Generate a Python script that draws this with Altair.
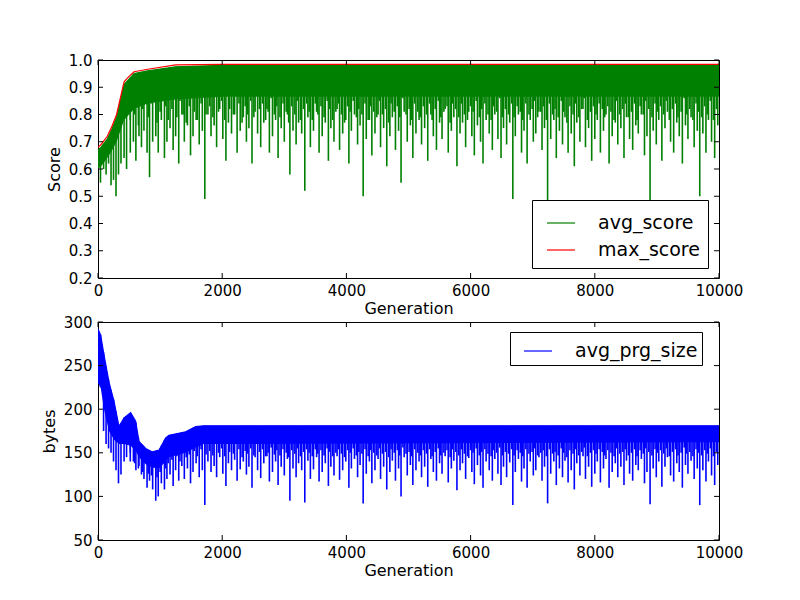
import altair as alt
import numpy as np
import pandas as pd

# ---------------- tick labels ----------------
x_ticks = [0, 2000, 4000, 6000, 8000, 10000]
score_ticks = [0.2, 0.3, 0.4, 0.5, 0.6, 0.7, 0.8, 0.9, 1.0]
bytes_ticks = [50, 100, 150, 200, 250, 300]

# ---------------- top panel: envelopes ----------------
env_g_gen = [0, 50, 150, 230, 300, 420, 500, 580, 800, 1250, 2000, 10000]
max_score = [0.68, 0.69, 0.72, 0.76, 0.80, 0.92, 0.94, 0.957, 0.966, 0.982, 0.984, 0.984]
avg_score_top = [0.67, 0.68, 0.71, 0.75, 0.79, 0.91, 0.93, 0.95, 0.96, 0.975, 0.98, 0.98]
avg_score_core_low = [0.60, 0.61, 0.64, 0.67, 0.70, 0.78, 0.80, 0.82, 0.84, 0.855, 0.865, 0.865]

# ---------------- bottom panel: envelopes ----------------
env_b_gen = [0, 43, 97, 177, 258, 338, 419, 526, 607, 660, 768, 875, 982, 1090, 1143, 1412, 1573, 1700, 10000]
avg_prg_top = [292, 285, 262, 231, 209, 180, 190, 196, 186, 163, 155, 151, 153, 167, 170, 174, 180, 181, 181]
avg_prg_core_low = [230, 225, 200, 175, 165, 160, 160, 158, 152, 145, 137, 133, 132, 140, 145, 150, 156, 160, 162]

# ---------------- deep dips (same generations in both panels) ----------------
spike_gen = [
    40, 90, 130, 170, 210, 250, 290, 330, 370, 420,
    460, 520, 570, 610, 660, 700, 740, 790, 830, 880,
    930, 970, 1020, 1070, 1110, 1160, 1210, 1250, 1300, 1350,
    1390, 1440, 1490, 1530, 1580, 1630, 1680, 1720, 1770, 1820,
    1870, 1910, 1960, 2010, 2060, 2100, 2150, 2200, 2240, 2290,
    2340, 2390, 2430, 2480, 2530, 2570, 2620, 2670, 2720, 2760,
    2810, 2860, 2900, 2950, 3000, 3050, 3090, 3140, 3190, 3230,
    3280, 3330, 3380, 3420, 3470, 3520, 3560, 3610, 3660, 3710,
    3750, 3800, 3850, 3890, 3940, 3990, 4040, 4080, 4130, 4180,
    4220, 4270, 4320, 4370, 4410, 4460, 4510, 4550, 4600, 4650,
    4700, 4740, 4790, 4840, 4880, 4930, 4980, 5030, 5070, 5120,
    5170, 5210, 5260, 5310, 5360, 5400, 5450, 5500, 5540, 5590,
    5640, 5690, 5730, 5780, 5830, 5870, 5920, 5970, 6020, 6060,
    6110, 6160, 6200, 6250, 6300, 6350, 6390, 6440, 6490, 6530,
    6580, 6630, 6680, 6720, 6770, 6820, 6860, 6910, 6960, 7010,
    7050, 7100, 7150, 7190, 7240, 7290, 7340, 7380, 7430, 7480,
    7520, 7570, 7620, 7670, 7710, 7760, 7810, 7850, 7900, 7950,
    8000, 8040, 8090, 8140, 8180, 8230, 8280, 8330, 8370, 8420,
    8470, 8510, 8560, 8610, 8660, 8700, 8750, 8800, 8840, 8890,
    8940, 8990, 9030, 9080, 9130, 9170, 9220, 9270, 9320, 9360,
    9410, 9460, 9500, 9550, 9600, 9650, 9690, 9740, 9790, 9830,
    9880, 9930, 9980,
]
spike_score = [
    0.55, 0.60, 0.58, 0.62, 0.54, 0.56, 0.50, 0.58, 0.62, 0.64,
    0.60, 0.66, 0.70, 0.63, 0.72, 0.68, 0.74, 0.66, 0.57, 0.70,
    0.72, 0.66, 0.78, 0.64, 0.70, 0.75, 0.67, 0.72, 0.62, 0.80,
    0.70, 0.76, 0.65, 0.72, 0.78, 0.69, 0.74, 0.49, 0.80, 0.72,
    0.76, 0.68, 0.82, 0.71, 0.63, 0.77, 0.73, 0.80, 0.66, 0.74,
    0.79, 0.70, 0.75, 0.62, 0.81, 0.73, 0.68, 0.77, 0.82, 0.66,
    0.72, 0.78, 0.64, 0.75, 0.70, 0.80, 0.58, 0.74, 0.69, 0.77,
    0.73, 0.52, 0.79, 0.68, 0.74, 0.81, 0.66, 0.72, 0.77, 0.63,
    0.75, 0.70, 0.82, 0.67, 0.73, 0.78, 0.62, 0.74, 0.80, 0.69,
    0.76, 0.50, 0.71, 0.78, 0.65, 0.73, 0.80, 0.68, 0.75, 0.61,
    0.72, 0.79, 0.67, 0.74, 0.55, 0.81, 0.70, 0.76, 0.64, 0.73,
    0.78, 0.69, 0.75, 0.63, 0.80, 0.72, 0.67, 0.77, 0.71, 0.82,
    0.66, 0.74, 0.79, 0.61, 0.73, 0.77, 0.68, 0.81, 0.72, 0.65,
    0.76, 0.70, 0.62, 0.78, 0.73, 0.67, 0.80, 0.71, 0.64, 0.75,
    0.69, 0.77, 0.49, 0.72, 0.80, 0.66, 0.74, 0.62, 0.78, 0.70,
    0.73, 0.81, 0.67, 0.75, 0.48, 0.71, 0.78, 0.64, 0.74, 0.69,
    0.79, 0.66, 0.73, 0.61, 0.77, 0.70, 0.82, 0.68, 0.75, 0.63,
    0.71, 0.78, 0.66, 0.74, 0.80, 0.62, 0.72, 0.77, 0.69, 0.75,
    0.64, 0.79, 0.71, 0.67, 0.76, 0.73, 0.80, 0.65, 0.72, 0.48,
    0.74, 0.69, 0.78, 0.63, 0.75, 0.81, 0.70, 0.66, 0.77, 0.72,
    0.62, 0.76, 0.71, 0.79, 0.68, 0.74, 0.50, 0.73, 0.66, 0.78,
    0.70, 0.64, 0.76,
]
spike_prg = [
    225, 175, 160, 155, 150, 140, 130, 115, 125, 140,
    145, 150, 140, 130, 135, 125, 120, 110, 118, 108,
    95, 100, 115, 108, 120, 125, 112, 130, 118, 135,
    120, 132, 115, 128, 138, 122, 130, 90, 140, 128,
    135, 122, 145, 126, 112, 138, 130, 142, 118, 131,
    140, 125, 134, 110, 145, 130, 121, 138, 146, 117,
    128, 140, 113, 134, 124, 143, 95, 132, 122, 138,
    130, 93, 141, 120, 131, 145, 117, 128, 138, 112,
    134, 124, 146, 119, 130, 140, 110, 132, 143, 122,
    136, 92, 126, 140, 115, 130, 143, 120, 134, 108,
    128, 141, 118, 132, 100, 145, 124, 136, 113, 130,
    140, 122, 134, 111, 143, 128, 118, 138, 126, 146,
    116, 132, 141, 107, 130, 138, 120, 144, 128, 114,
    136, 124, 110, 140, 130, 118, 143, 126, 113, 134,
    122, 139, 90, 128, 143, 117, 132, 110, 140, 124,
    130, 145, 118, 134, 92, 126, 140, 113, 132, 122,
    141, 116, 130, 108, 138, 124, 146, 120, 134, 111,
    126, 140, 116, 132, 143, 110, 128, 138, 122, 134,
    113, 141, 126, 118, 136, 130, 143, 115, 128, 91,
    132, 122, 140, 111, 134, 145, 124, 117, 138, 128,
    110, 136, 126, 141, 120, 132, 90, 130, 117, 140,
    124, 113, 136,
]

# ---------------- shallow dips ----------------
shallow_gen = [
    520, 590, 650, 720, 810, 860, 950, 1000, 1090, 1130,
    1190, 1270, 1320, 1370, 1420, 1470, 1550, 1600, 1660, 1740,
    1800, 1850, 1940, 1990, 2040, 2120, 2180, 2270, 2320, 2370,
    2410, 2460, 2510, 2600, 2650, 2700, 2740, 2790, 2840, 2880,
    2930, 2980, 3030, 3070, 3120, 3170, 3210, 3260, 3310, 3360,
    3400, 3450, 3500, 3540, 3590, 3640, 3690, 3730, 3780, 3830,
    3870, 3920, 3970, 4020, 4060, 4110, 4160, 4200, 4250, 4300,
    4350, 4390, 4440, 4490, 4530, 4580, 4630, 4680, 4720, 4770,
    4820, 4860, 4910, 4960, 5010, 5050, 5100, 5150, 5190, 5240,
    5290, 5340, 5380, 5430, 5480, 5520, 5570, 5620, 5670, 5710,
    5760, 5810, 5850, 5900, 5950, 6000, 6040, 6090, 6140, 6180,
    6230, 6280, 6330, 6370, 6420, 6470, 6510, 6560, 6610, 6660,
    6700, 6750, 6800, 6840, 6890, 6940, 6990, 7030, 7080, 7130,
    7170, 7220, 7270, 7320, 7360, 7410, 7460, 7500, 7550, 7600,
    7650, 7690, 7740, 7790, 7830, 7880, 7930, 7980, 8020, 8070,
    8120, 8160, 8210, 8260, 8310, 8350, 8400, 8450, 8490, 8540,
    8590, 8640, 8680, 8730, 8780, 8820, 8870, 8920, 8970, 9010,
    9060, 9110, 9150, 9200, 9250, 9300, 9340, 9390, 9440, 9480,
    9530, 9580, 9630, 9670, 9720, 9770, 9810, 9860, 9910, 9960,
]
shallow_score = [
    0.78, 0.80, 0.76, 0.82, 0.79, 0.84, 0.77, 0.81, 0.83, 0.78,
    0.82, 0.79, 0.85, 0.80, 0.77, 0.83, 0.81, 0.78, 0.84, 0.80,
    0.83, 0.79, 0.81, 0.85, 0.78, 0.82, 0.80, 0.84, 0.77, 0.83,
    0.80, 0.85, 0.79, 0.82, 0.84, 0.78, 0.81, 0.86, 0.80, 0.83,
    0.79, 0.84, 0.81, 0.77, 0.83, 0.80, 0.85, 0.78, 0.82, 0.84,
    0.81, 0.78, 0.84, 0.80, 0.83, 0.79, 0.85, 0.82, 0.78, 0.81,
    0.84, 0.80, 0.77, 0.83, 0.81, 0.85, 0.79, 0.82, 0.80, 0.84,
    0.78, 0.83, 0.81, 0.79, 0.85, 0.80, 0.82, 0.77, 0.84, 0.81,
    0.83, 0.79, 0.86, 0.80, 0.82, 0.78, 0.84, 0.81, 0.79, 0.83,
    0.80, 0.84, 0.78, 0.82, 0.85, 0.79, 0.81, 0.83, 0.77, 0.84,
    0.82, 0.79, 0.84, 0.80, 0.78, 0.83, 0.81, 0.85, 0.79, 0.82,
    0.84, 0.80, 0.78, 0.83, 0.81, 0.86, 0.79, 0.82, 0.80, 0.84,
    0.79, 0.83, 0.81, 0.78, 0.84, 0.80, 0.82, 0.85, 0.79, 0.81,
    0.83, 0.78, 0.84, 0.80, 0.82, 0.79, 0.85, 0.81, 0.77, 0.83,
    0.80, 0.84, 0.79, 0.82, 0.86, 0.78, 0.81, 0.83, 0.80, 0.84,
    0.82, 0.79, 0.83, 0.81, 0.78, 0.85, 0.80, 0.82, 0.84, 0.79,
    0.81, 0.84, 0.78, 0.83, 0.80, 0.85, 0.82, 0.79, 0.84, 0.81,
    0.83, 0.80, 0.85, 0.78, 0.82, 0.84, 0.79, 0.81, 0.86, 0.80,
    0.82, 0.78, 0.84, 0.81, 0.79, 0.83, 0.80, 0.85, 0.78, 0.82,
]
shallow_prg = [
    140, 138, 132, 128, 126, 124, 122, 128, 132, 138,
    142, 146, 140, 150, 145, 148, 152, 146, 154, 148,
    152, 147, 150, 155, 146, 151, 149, 154, 145, 152,
    149, 155, 147, 151, 154, 146, 150, 156, 148, 153,
    147, 154, 150, 145, 153, 149, 155, 146, 151, 154,
    150, 146, 154, 149, 153, 147, 155, 151, 146, 150,
    154, 149, 145, 153, 150, 155, 147, 151, 149, 154,
    146, 153, 150, 147, 155, 149, 151, 145, 154, 150,
    153, 147, 156, 149, 151, 146, 154, 150, 147, 153,
    149, 154, 146, 151, 155, 147, 150, 153, 145, 154,
    151, 147, 154, 149, 146, 153, 150, 155, 147, 151,
    154, 149, 146, 153, 150, 156, 147, 151, 149, 154,
    147, 153, 150, 146, 154, 149, 151, 155, 147, 150,
    153, 146, 154, 149, 151, 147, 155, 150, 145, 153,
    149, 154, 147, 151, 156, 146, 150, 153, 149, 154,
    151, 147, 153, 150, 146, 155, 149, 151, 154, 147,
    150, 154, 146, 153, 149, 155, 151, 147, 154, 150,
    153, 149, 155, 146, 151, 154, 147, 150, 156, 149,
    151, 146, 154, 150, 147, 153, 149, 155, 146, 151,
]

GREEN, RED, BLUE = "#008000", "#ff0000", "#0000ff"
W, H = 621, 218
FONT = "DejaVu Sans"

# ---------------- tables ----------------
g_env = pd.DataFrame({"gen": env_g_gen, "low": avg_score_core_low, "top": avg_score_top})
g_lines = pd.concat([
    pd.DataFrame({"gen": env_g_gen, "value": avg_score_top, "series": "avg_score"}),
    pd.DataFrame({"gen": env_g_gen, "value": max_score, "series": "max_score"}),
])
g_dips = pd.concat([
    pd.DataFrame({"gen": spike_gen, "value": spike_score}),
    pd.DataFrame({"gen": shallow_gen, "value": shallow_score}),
])
g_dips["top"] = np.interp(g_dips["gen"], env_g_gen, avg_score_top)

b_env = pd.DataFrame({"gen": env_b_gen, "low": avg_prg_core_low, "top": avg_prg_top})
b_lines = pd.DataFrame({"gen": env_b_gen, "value": avg_prg_top, "series": "avg_prg_size"})
b_dips = pd.concat([
    pd.DataFrame({"gen": spike_gen, "value": spike_prg}),
    pd.DataFrame({"gen": shallow_gen, "value": shallow_prg}),
])
b_dips["top"] = np.interp(b_dips["gen"], env_b_gen, avg_prg_top)

xt = pd.DataFrame({"tick": x_ticks})
yt_score = pd.DataFrame({"tick": score_ticks})
yt_bytes = pd.DataFrame({"tick": bytes_ticks})

xscale = alt.Scale(domain=[0, 10000], nice=False, zero=False)
xaxis = alt.Axis(values=x_ticks, ticks=False, domain=False, grid=False, labelPadding=5,
                 labelFlush=False, labelOverlap=False, titlePadding=2, format="d")


def X(field):
    return alt.X(f"{field}:Q", scale=xscale, axis=xaxis, title="Generation")


def make_Y(domain, ticks, fmt, title):
    sc = alt.Scale(domain=domain, nice=False, zero=False)
    ax = alt.Axis(values=ticks, ticks=False, domain=False, grid=False, labelPadding=6,
                  labelFlush=False, labelOverlap=False, titlePadding=6, format=fmt)

    def Y(field):
        return alt.Y(f"{field}:Q", scale=sc, axis=ax, title=title)
    return Y


def tick_layers(Y, yticks):
    tx1 = alt.Chart(xt).mark_rule(color="black", strokeWidth=1).encode(
        x=X("tick"), y=alt.value(0), y2=alt.value(5))
    tx2 = alt.Chart(xt).mark_rule(color="black", strokeWidth=1).encode(
        x=X("tick"), y=alt.value(H - 5), y2=alt.value(H))
    ty1 = alt.Chart(yticks).mark_rule(color="black", strokeWidth=1).encode(
        y=Y("tick"), x=alt.value(0), x2=alt.value(5))
    ty2 = alt.Chart(yticks).mark_rule(color="black", strokeWidth=1).encode(
        y=Y("tick"), x=alt.value(W - 5), x2=alt.value(W))
    return [tx1, tx2, ty1, ty2]


def legend(lx, ly, pad, offset, rowpad):
    return alt.Legend(title=None, orient="none", legendX=lx, legendY=ly,
                      symbolType="stroke", symbolSize=784, symbolStrokeWidth=1.2,
                      symbolOffset=offset,
                      labelFont=FONT, labelFontSize=19, labelColor="black",
                      labelOffset=22, rowPadding=rowpad, padding=pad,
                      strokeColor="black", fillColor="white", cornerRadius=0)


# ---------------- top panel ----------------
Ys = make_Y([0.2, 1.0], score_ticks, ".1f", "Score")
top_area = alt.Chart(g_env).mark_area(color=GREEN, clip=True).encode(
    x=X("gen"), y=Ys("low"), y2="top")
top_dips = alt.Chart(g_dips).mark_rule(color=GREEN, strokeWidth=1.6, clip=True).encode(
    x=X("gen"), y=Ys("value"), y2="top")
top_lines = alt.Chart(g_lines).mark_line(strokeWidth=1.2, clip=True).encode(
    x=X("gen"), y=Ys("value"),
    stroke=alt.Stroke("series:N",
                      scale=alt.Scale(domain=["avg_score", "max_score"], range=[GREEN, RED]),
                      legend=legend(434, 140, 8, 6, 2)))
top = alt.layer(top_area, top_dips, top_lines, *tick_layers(Ys, yt_score)).properties(
    width=W, height=H)

# ---------------- bottom panel ----------------
Yb = make_Y([50, 300], bytes_ticks, "d", "bytes")
bot_area = alt.Chart(b_env).mark_area(color=BLUE, clip=True).encode(
    x=X("gen"), y=Yb("low"), y2="top")
bot_dips = alt.Chart(b_dips).mark_rule(color=BLUE, strokeWidth=1.6, clip=True).encode(
    x=X("gen"), y=Yb("value"), y2="top")
bot_lines = alt.Chart(b_lines).mark_line(strokeWidth=1.2, clip=True).encode(
    x=X("gen"), y=Yb("value"),
    stroke=alt.Stroke("series:N",
                      scale=alt.Scale(domain=["avg_prg_size"], range=[BLUE]),
                      legend=legend(412, 10, 4, 9, 1)))
bottom = alt.layer(bot_area, bot_dips, bot_lines, *tick_layers(Yb, yt_bytes)).properties(
    width=W, height=H)

chart = alt.vconcat(top, bottom, spacing=44, bounds="flush").resolve_scale(
    y="independent", stroke="independent", x="independent"
).properties(
    padding={"left": 32, "top": 44, "right": 5, "bottom": 5},
    background="white",
).configure_axis(
    labelFont=FONT, labelFontSize=15, labelColor="black",
    titleFont=FONT, titleFontSize=16, titleFontWeight="normal", titleColor="black",
).configure_view(
    stroke="black", strokeWidth=1
)

chart.save("out.html", embed_options={"renderer": "svg", "actions": False})
